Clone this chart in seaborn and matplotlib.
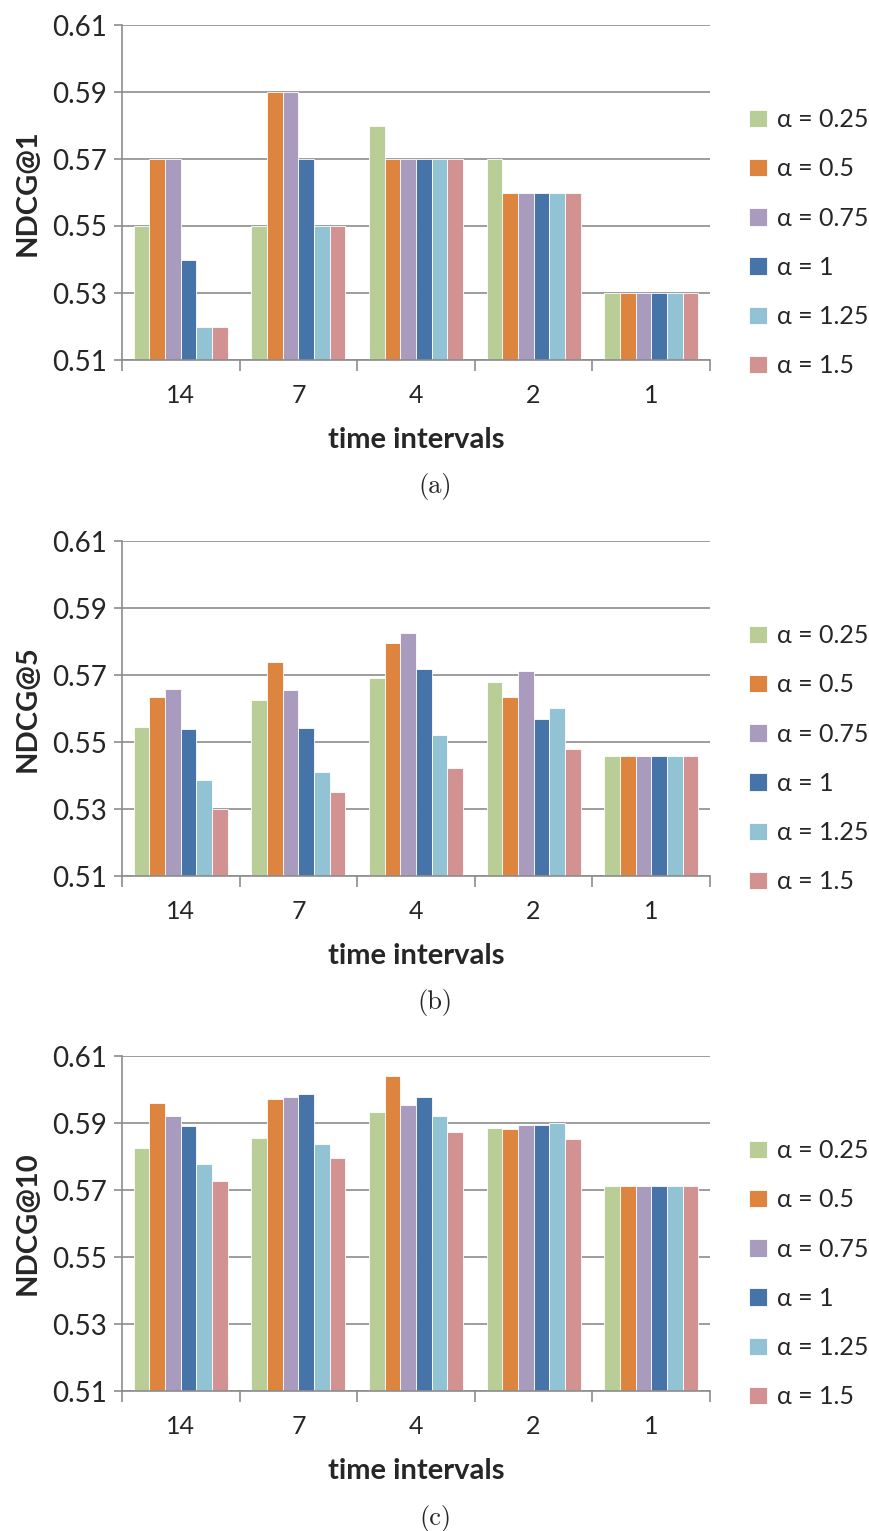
import pandas as pd
import seaborn as sns
import matplotlib.pyplot as plt
from matplotlib.ticker import FixedLocator

# data
intervals = ['14', '7', '4', '2', '1']
alphas = ['α = 0.25', 'α = 0.5', 'α = 0.75', 'α = 1', 'α = 1.25', 'α = 1.5']

# rows: interval, cols: alpha
ndcg1 = [
    [0.55, 0.57, 0.57, 0.54, 0.52, 0.52],
    [0.55, 0.59, 0.59, 0.57, 0.55, 0.55],
    [0.58, 0.57, 0.57, 0.57, 0.57, 0.57],
    [0.57, 0.56, 0.56, 0.56, 0.56, 0.56],
    [0.53, 0.53, 0.53, 0.53, 0.53, 0.53],
]
ndcg5 = [
    [0.5545, 0.5634, 0.5657, 0.5538, 0.5386, 0.5300],
    [0.5624, 0.5739, 0.5656, 0.5541, 0.5410, 0.5352],
    [0.5692, 0.5796, 0.5824, 0.5718, 0.5521, 0.5422],
    [0.5680, 0.5635, 0.5712, 0.5570, 0.5602, 0.5480],
    [0.5457, 0.5457, 0.5457, 0.5457, 0.5457, 0.5457],
]
ndcg10 = [
    [0.5824, 0.5961, 0.5921, 0.5892, 0.5779, 0.5727],
    [0.5854, 0.5971, 0.5979, 0.5988, 0.5837, 0.5797],
    [0.5932, 0.6039, 0.5954, 0.5977, 0.5921, 0.5872],
    [0.5886, 0.5881, 0.5893, 0.5893, 0.5901, 0.5851],
    [0.5711, 0.5711, 0.5711, 0.5711, 0.5711, 0.5711],
]

colors = ['#B9CD96', '#DD843F', '#A99BBD', '#4674A9', '#92C3D5', '#D39292']
yticks = [0.51, 0.53, 0.55, 0.57, 0.59, 0.61]

panels = [('NDCG@1', ndcg1, '(a)', 25), ('NDCG@5', ndcg5, '(b)', 541), ('NDCG@10', ndcg10, '(c)', 1056)]

sns.set_style('white')
plt.rcParams['font.family'] = ['Lato', 'DejaVu Sans']

W, H = 870, 1531
fig = plt.figure(figsize=(W / 100, H / 100), dpi=100)
grid_col = '#8c8c8c'

for ylab, vals, cap, top in panels:
    left, right, height = 122, 710, 335
    ax = fig.add_axes([left / W, 1 - (top + height) / H, (right - left) / W, height / H])

    rows = []
    for i, iv in enumerate(intervals):
        for j, a in enumerate(alphas):
            rows.append({'interval': iv, 'alpha': a, 'value': vals[i][j]})
    df = pd.DataFrame(rows)

    sns.barplot(data=df, x='interval', y='value', hue='alpha', order=intervals,
                hue_order=alphas, palette=colors, width=0.8, ax=ax,
                edgecolor='white', linewidth=0.6, saturation=1)

    ax.set_ylim(0.51, 0.61)
    ax.set_xlim(-0.5, 4.5)
    ax.set_yticks(yticks)
    ax.set_yticklabels([f'{t:.2f}' for t in yticks], fontsize=20)
    ax.yaxis.grid(True, color=grid_col, linewidth=1.2)
    ax.set_axisbelow(True)
    ax.tick_params(axis='y', length=6, color=grid_col, width=1.2, pad=5, direction='out', left=True)
    ax.tick_params(axis='x', which='major', length=0, labelsize=18, pad=17)
    ax.xaxis.set_minor_locator(FixedLocator([-0.5, 0.5, 1.5, 2.5, 3.5, 4.5]))
    ax.tick_params(axis='x', which='minor', length=8, color=grid_col, width=1.2, direction='out', bottom=True)
    for s in ['top', 'right']:
        ax.spines[s].set_visible(False)
    for s in ['left', 'bottom']:
        ax.spines[s].set_color(grid_col)
        ax.spines[s].set_linewidth(1.2)

    ax.set_ylabel(ylab, fontsize=21, fontweight='bold', labelpad=8)
    ax.set_xlabel('time intervals', fontsize=21, fontweight='bold', labelpad=15)

    ax.legend(loc='center left', bbox_to_anchor=(1.05, 0.35), frameon=False,
              fontsize=18, handlelength=0.7, handleheight=0.7, handletextpad=0.4,
              labelspacing=1.05, borderaxespad=0)

    fig.text(0.5, 1 - (top + 462) / H, cap, ha='center', va='center',
             fontsize=19, family='cmr10')

fig.savefig('out.png', dpi=100)
